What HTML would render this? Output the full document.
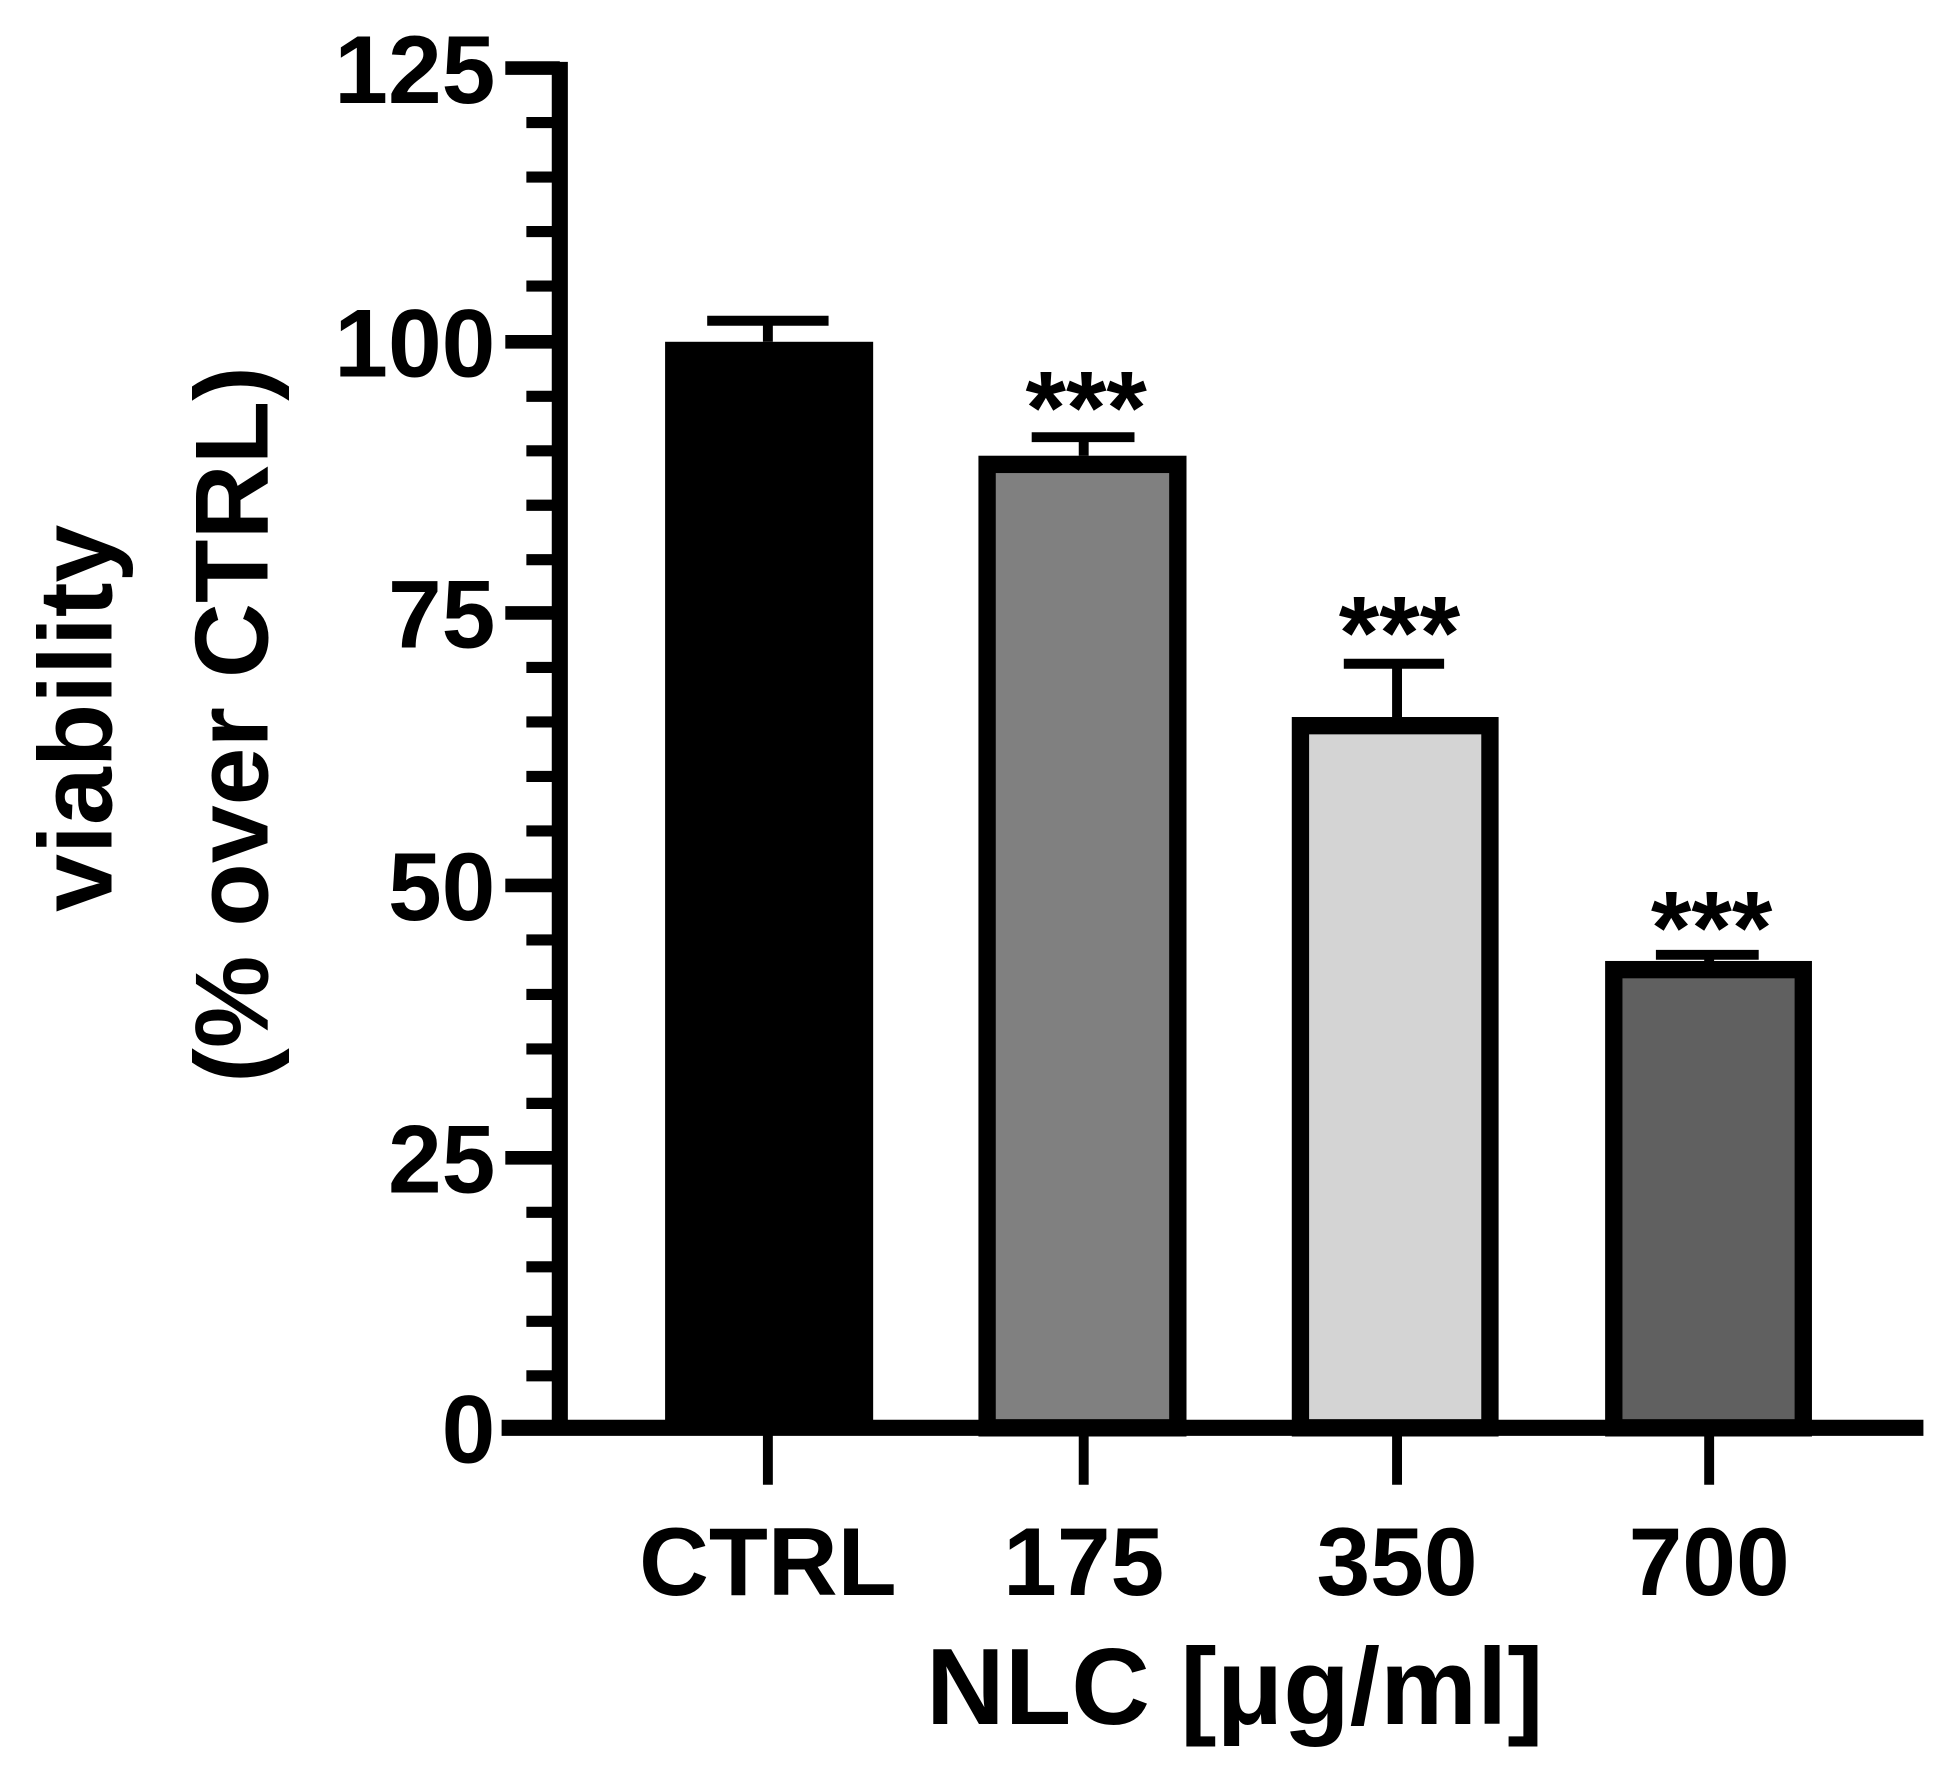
<!DOCTYPE html>
<html><head><meta charset="utf-8"><style>
html,body{margin:0;padding:0;background:#fff;}
svg{display:block;}
text{font-family:"Liberation Sans",Arial,sans-serif;font-weight:bold;fill:#000;}
</style></head><body>
<svg width="1942" height="1782" viewBox="0 0 1568 1439" preserveAspectRatio="none" xmlns="http://www.w3.org/2000/svg">
<rect width="1568" height="1439" fill="#fff"/>
<g stroke="#000" stroke-width="9">
<path d="M425 99H452M425 143H452M425 187H452M425 231H452M425 320H452M425 364H452M425 408H452M425 452H452M425 539H452M425 583H452M425 627H452M425 671H452M425 759H452M425 803H452M425 847H452M425 891H452M425 979H452M425 1023H452M425 1067H452M425 1111H452"/>
</g>
<g stroke="#000" stroke-width="11">
<path d="M408 55H452M408 276H452M408 495H452M408 715H452M408 935H452"/>
</g>
<line x1="452" y1="50" x2="452" y2="1159" stroke="#000" stroke-width="13"/>
<line x1="405" y1="1153" x2="1553" y2="1153" stroke="#000" stroke-width="13"/>
<g stroke="#000" stroke-width="8">
<path d="M620 1153V1199M875 1153V1199M1128 1153V1199M1380 1153V1199"/>
</g>
<g stroke="#000" stroke-width="8" fill="none">
<path d="M620 276V259M571 259H669"/>
<path d="M875 368V353M833 353H916"/>
<path d="M1128 579V536M1085 536H1166"/>
<path d="M1380 776V771M1337 771H1420"/>
</g>
<rect x="537" y="276" width="168" height="877" fill="#000"/>
<rect x="797" y="375" width="154" height="778" fill="#808080" stroke="#000" stroke-width="14"/>
<rect x="1050" y="586" width="153" height="567" fill="#d4d4d4" stroke="#000" stroke-width="14"/>
<rect x="1303" y="783" width="153" height="370" fill="#606060" stroke="#000" stroke-width="14"/>
<g font-size="84" text-anchor="middle">
<text x="877" y="358">***</text>
<text x="1130" y="540">***</text>
<text x="1382" y="778">***</text>
</g>
<g font-size="78" text-anchor="end">
<text x="400" y="83">125</text>
<text x="400" y="304">100</text>
<text x="400" y="523">75</text>
<text x="400" y="743">50</text>
<text x="400" y="963">25</text>
<text x="400" y="1181">0</text>
</g>
<g font-size="78" text-anchor="middle">
<text x="620" y="1288">CTRL</text>
<text x="875" y="1288">175</text>
<text x="1128" y="1288">350</text>
<text x="1380" y="1288">700</text>
</g>
<text x="997" y="1392" font-size="88" text-anchor="middle">NLC [μg/ml]</text>
<g font-size="84" text-anchor="middle">
<text transform="translate(90,580) rotate(-90)">viability</text>
<text transform="translate(216,585) rotate(-90)">(% over CTRL)</text>
</g>
</svg>
</body></html>
